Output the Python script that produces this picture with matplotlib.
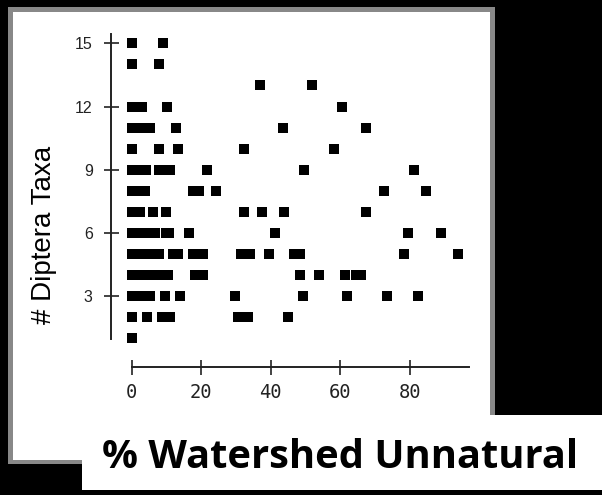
import matplotlib
matplotlib.use("Agg")
import matplotlib.pyplot as plt
from matplotlib.patches import Rectangle

# % watershed unnatural (x) and number of Diptera taxa (y), row by row
pct_unnatural = [
    0, 9,                                                   # 15
    0, 8,                                                   # 14
    37, 52,                                                 # 13
    0, 1, 2, 3, 10.3, 60.5,                                 # 12
    0, 1, 2, 3, 4, 5.4, 12.8, 43.6, 67.3,                   # 11
    0, 8, 13.4, 32.2, 58.1,                                 # 10
    0, 1, 2, 3, 4.2, 8, 9, 10, 11, 21.8, 49.7, 81.1,        # 9
    0, 1, 2, 3.7, 17.6, 19.3, 24.3, 72.7, 84.8,             # 8
    0, 1, 2.4, 6.2, 9.8, 32.2, 37.6, 43.7, 67.3,            # 7
    0, 1, 2, 3, 4, 5, 6.7, 10, 10.7, 16.4, 41.2, 79.4, 89.1,  # 6
    0, 1, 2, 3, 4, 5, 6, 7, 7.8, 11.8, 13.4, 17.6, 19, 20.6,
    31.5, 34, 39.4, 46.8, 48.5, 78.3, 93.9,                 # 5
    0, 1, 2, 3, 4, 5, 6, 7, 8, 9, 10.4, 18.3, 20.6,
    48.5, 54, 61.3, 64.5, 66,                               # 4
    0, 1, 2, 3, 4, 5.4, 9.7, 14, 29.7, 49.2, 62, 73.4, 82.4,  # 3
    0, 4.4, 8.7, 11, 30.5, 33.4, 45,                        # 2
    0,                                                      # 1
]
diptera_taxa = (
    [15] * 2 + [14] * 2 + [13] * 2 + [12] * 6 + [11] * 9 + [10] * 5
    + [9] * 12 + [8] * 9 + [7] * 9 + [6] * 13 + [5] * 21 + [4] * 18
    + [3] * 13 + [2] * 7 + [1] * 1
)
x_ticks = [0, 20, 40, 60, 80]
y_ticks = [3, 6, 9, 12, 15]
x_label = "% Watershed Unnatural"
y_label = "# Diptera Taxa"

W, H = 602, 495
fig = plt.figure(figsize=(W / 100, H / 100), dpi=100)
fig.patch.set_facecolor("black")


def fr(x0, y0, x1, y1, color, z):
    fig.add_artist(Rectangle((x0 / W, 1 - y1 / H), (x1 - x0) / W, (y1 - y0) / H,
                             transform=fig.transFigure, facecolor=color,
                             edgecolor="none", zorder=z))


fr(8, 7, 495, 464, "#888888", 0)
fr(13, 12, 490, 460, "white", 1)
fr(82, 415, 602, 490, "white", 5)

# axes geometry
px_per_x = 3.475
px_per_y = 21.07
x0_px, y15_px = 131.7, 43.3
xlim = (-10, 100)
ylim = (-0.5, 16)
left = x0_px + xlim[0] * px_per_x
right = x0_px + xlim[1] * px_per_x
top = y15_px - (ylim[1] - 15) * px_per_y
bottom = y15_px + (15 - ylim[0]) * px_per_y
ax = fig.add_axes([left / W, 1 - bottom / H, (right - left) / W, (bottom - top) / H])
ax.set_zorder(3)
ax.patch.set_alpha(0)
ax.set_xlim(*xlim)
ax.set_ylim(*ylim)

ax.plot(pct_unnatural, diptera_taxa, linestyle="none", marker="s",
        markersize=7.6, markeredgewidth=0, color="black", clip_on=False)

for s in ["top", "right"]:
    ax.spines[s].set_visible(False)
ax.spines["left"].set_position(("data", (111.3 - x0_px) / px_per_x))
ax.spines["left"].set_bounds(0.95, 15.45)
ax.spines["bottom"].set_position(("data", 15 - (366.7 - y15_px) / px_per_y))
ax.spines["bottom"].set_bounds(0, 97.1)
for s in ["left", "bottom"]:
    ax.spines[s].set_linewidth(1.4)
    ax.spines[s].set_color("#222222")

ax.set_xticks(x_ticks)
ax.set_yticks(y_ticks)
ax.tick_params(direction="inout", length=10.8, width=1.2, color="#222222")
ax.tick_params(axis="x", pad=6.5)
ax.tick_params(axis="y", pad=8.0)
for lab in ax.get_xticklabels():
    lab.set_fontfamily("DejaVu Sans Mono")
    lab.set_fontsize(13.5)
    lab.set_color("#222222")
for lab in ax.get_yticklabels():
    lab.set_fontfamily("Liberation Sans")
    lab.set_fontsize(11.5)
    lab.set_color("#222222")

fig.text(44 / W, 1 - 235 / H, y_label, rotation=90, ha="center", va="center",
         family="Liberation Sans", fontsize=20, color="black", zorder=6)
fig.text(340 / W, 1 - 468 / H, x_label, ha="center", va="baseline",
         family="Open Sans", weight="bold", fontsize=28.7, color="black", zorder=6)

fig.savefig("out.png", dpi=100, facecolor=fig.get_facecolor())
